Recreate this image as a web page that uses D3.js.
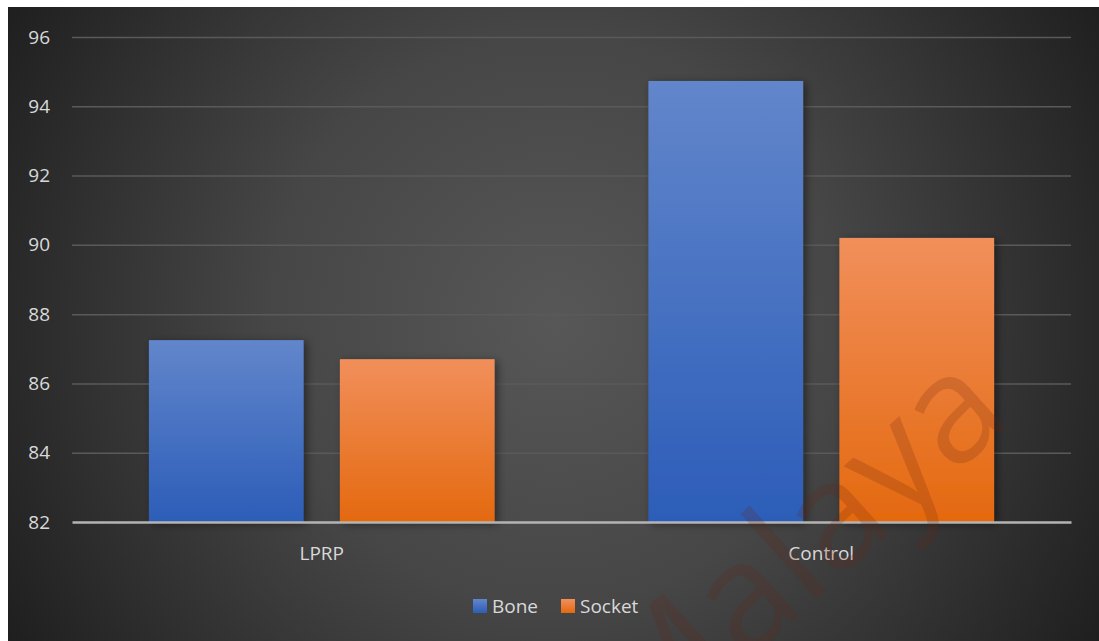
<!DOCTYPE html>
<html>
<head>
<meta charset="utf-8">
<script src="https://cdn.jsdelivr.net/npm/d3@7"></script>
<style>
  body { margin: 0; background: #fff; }
  svg { display: block; }
  svg text { font-family: "Open Sans", "Noto Sans", sans-serif; }
</style>
</head>
<body>
<svg id="chart"></svg>
<script>
// data
const categories = ["LPRP", "Control"];
const series = ["Bone", "Socket"];
const boneValues = [87.25, 94.73];
const socketValues = [86.7, 90.2];
const yTicks = [82, 84, 86, 88, 90, 92, 94, 96];

const width = 1099;
const height = 641;
const plot = { left: 72, right: 1071, top: 37, bottom: 522 };

const svg = d3.select("#chart")
  .attr("width", width)
  .attr("height", height);

const defs = svg.append("defs");

// background radial gradient
const bg = defs.append("radialGradient")
  .attr("id", "bg")
  .attr("gradientUnits", "userSpaceOnUse")
  .attr("cx", 555).attr("cy", 320).attr("r", 640);
bg.append("stop").attr("offset", "0%").attr("stop-color", "#575757");
bg.append("stop").attr("offset", "45%").attr("stop-color", "#464646");
bg.append("stop").attr("offset", "100%").attr("stop-color", "#1e1e1e");

const colors = {
  Bone: ["#6286cb", "#2c5db8"],
  Socket: ["#f18f5b", "#e4690f"]
};
series.forEach((s) => {
  const g = defs.append("linearGradient")
    .attr("id", "grad-" + s)
    .attr("x1", 0).attr("y1", 0).attr("x2", 0).attr("y2", 1);
  g.append("stop").attr("offset", "0%").attr("stop-color", colors[s][0]);
  g.append("stop").attr("offset", "100%").attr("stop-color", colors[s][1]);
});

const shadow = defs.append("filter")
  .attr("id", "shadow")
  .attr("x", "-20%").attr("y", "-10%")
  .attr("width", "150%").attr("height", "130%");
shadow.append("feDropShadow")
  .attr("dx", 3).attr("dy", 2)
  .attr("stdDeviation", 4)
  .attr("flood-color", "#000")
  .attr("flood-opacity", 0.45);

defs.append("clipPath")
  .attr("id", "frame")
  .append("rect")
  .attr("x", 8).attr("y", 7)
  .attr("width", width - 8).attr("height", height - 7);

svg.append("rect")
  .attr("x", 8).attr("y", 7)
  .attr("width", width - 8).attr("height", height - 7)
  .attr("fill", "url(#bg)");

// scales
const x0 = d3.scaleBand()
  .domain(categories)
  .range([plot.left, plot.right]);

const x1 = d3.scaleBand()
  .domain(series)
  .range([x0.bandwidth() * 0.154, x0.bandwidth() * 0.846])
  .paddingInner(0.19);

const y = d3.scaleLinear()
  .domain([82, 96])
  .range([plot.bottom, plot.top]);

// gridlines
svg.append("g")
  .attr("class", "grid")
  .attr("transform", `translate(${plot.left}, 0)`)
  .call(d3.axisLeft(y).tickValues(yTicks.slice(1)).tickSize(-(plot.right - plot.left)).tickFormat(""))
  .call((g) => g.select(".domain").remove())
  .call((g) => g.selectAll("line").attr("stroke", "#5a5a5a").attr("stroke-width", 1.5));

// y labels
svg.append("g")
  .attr("transform", `translate(${plot.left - 22}, 0)`)
  .call(d3.axisLeft(y).tickValues(yTicks).tickSize(0))
  .call((g) => g.select(".domain").remove())
  .call((g) => g.selectAll("text")
    .attr("fill", "#d9d9d9")
    .style("font-size", "19px")
    .attr("x", 0));

// bars
const rows = categories.map((c, i) => ({ cat: c, values: [boneValues[i], socketValues[i]] }));

const groups = svg.selectAll(".cat")
  .data(rows)
  .enter()
  .append("g")
  .attr("transform", (d) => `translate(${x0(d.cat)}, 0)`);

groups.selectAll("rect")
  .data((d) => series.map((s, j) => ({ key: s, value: d.values[j] })))
  .enter()
  .append("rect")
  .attr("x", (d) => x1(d.key))
  .attr("y", (d) => y(d.value))
  .attr("width", x1.bandwidth())
  .attr("height", (d) => y(82) - y(d.value))
  .attr("fill", (d) => `url(#grad-${d.key})`)
  .attr("filter", "url(#shadow)");

// x axis
svg.append("g")
  .attr("transform", `translate(0, ${plot.bottom})`)
  .call(d3.axisBottom(x0).tickSize(0))
  .call((g) => g.select(".domain").attr("stroke", "#b4b4b4").attr("stroke-width", 2.5))
  .call((g) => g.selectAll("text")
    .attr("fill", "#d9d9d9")
    .attr("dy", 0)
    .attr("y", 38)
    .style("font-size", "19px"));

// legend
const legend = svg.append("g")
  .attr("transform", "translate(473, 599)");

const legendItems = legend.selectAll("g")
  .data(series)
  .enter()
  .append("g")
  .attr("transform", (d, i) => `translate(${i * 88}, 0)`);

legendItems.append("rect")
  .attr("width", 14)
  .attr("height", 14)
  .attr("fill", (d) => `url(#grad-${d})`);

legendItems.append("text")
  .attr("x", 19)
  .attr("y", 14)
  .attr("fill", "#d9d9d9")
  .style("font-size", "19px")
  .text((d) => d);

// watermark
svg.append("g")
  .attr("clip-path", "url(#frame)")
  .append("text")
  .attr("text-anchor", "end")
  .attr("transform", "translate(1015, 420) rotate(-42)")
  .attr("fill", "#6a2410")
  .attr("fill-opacity", 0.2)
  .style("font-size", "150px")
  .text("Malaya");
</script>
</body>
</html>
